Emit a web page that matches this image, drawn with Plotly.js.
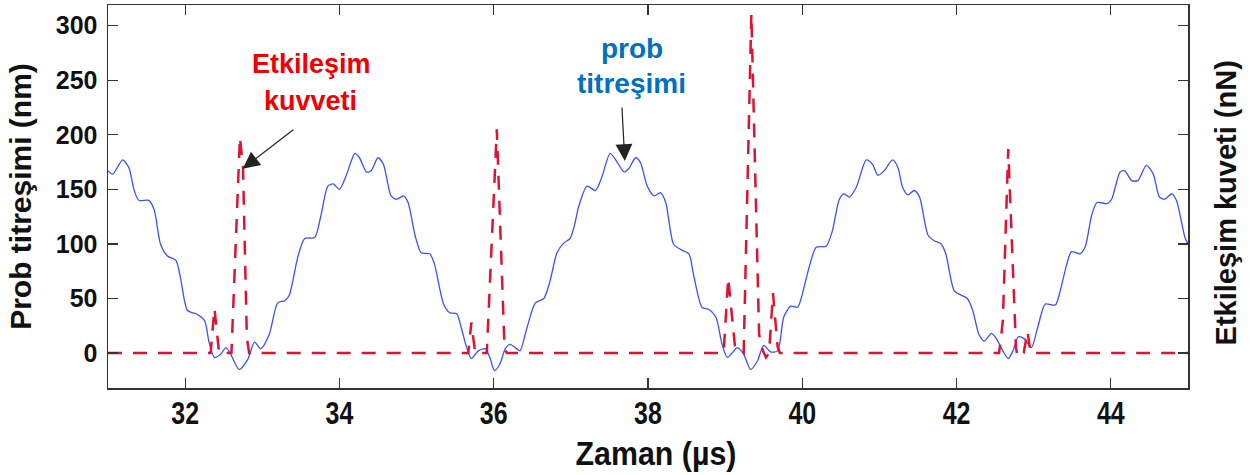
<!DOCTYPE html>
<html><head><meta charset="utf-8">
<script src="https://cdn.plot.ly/plotly-3.0.1.min.js"></script>
<style>html,body{margin:0;padding:0;background:#fff}</style>
</head><body><div id="chart" style="width:1255px;height:475px"></div>
<script>
// Probe vibration (nm) vs time (µs)
const probTime = [31.00,31.06,31.19,31.27,31.34,31.40,31.53,31.60,31.68,31.77,31.88,31.94,32.03,32.14,32.25,32.31,32.38,32.46,32.53,32.59,32.70,32.81,32.90,32.98,33.09,33.20,33.29,33.35,33.46,33.55,33.68,33.76,33.85,33.92,34.00,34.09,34.20,34.26,34.35,34.41,34.50,34.57,34.67,34.74,34.83,34.89,34.98,35.06,35.17,35.23,35.35,35.43,35.52,35.58,35.65,35.71,35.80,35.89,35.95,36.01,36.08,36.15,36.21,36.28,36.34,36.43,36.54,36.65,36.73,36.82,36.91,36.99,37.05,37.10,37.21,37.32,37.40,37.51,37.60,37.69,37.75,37.84,37.90,37.99,38.08,38.16,38.23,38.33,38.42,38.53,38.59,38.70,38.79,38.88,38.96,39.03,39.16,39.24,39.33,39.42,39.50,39.59,39.68,39.76,39.85,39.94,40.00,40.09,40.18,40.31,40.39,40.48,40.54,40.61,40.70,40.83,40.91,40.98,41.06,41.17,41.24,41.30,41.37,41.45,41.52,41.63,41.71,41.80,41.86,41.97,42.06,42.14,42.21,42.29,42.36,42.45,42.51,42.60,42.67,42.73,42.80,42.88,42.97,43.05,43.15,43.28,43.34,43.43,43.49,43.60,43.67,43.75,43.82,43.95,44.01,44.12,44.18,44.27,44.35,44.46,44.55,44.63,44.70,44.79,44.85,44.96,45.00];
const probAmp = [167,164,177,170,149,140,140,131,100,89,85,69,39,36,30,10,-4,-1,5,-1,-15,-6,10,4,17,46,48,53,88,105,106,126,153,155,150,163,183,179,166,167,179,173,144,141,144,138,108,92,91,82,45,37,36,23,5,-5,2,4,-4,-16,-10,4,8,5,2,23,46,50,66,92,101,105,118,134,153,149,161,183,175,166,169,179,175,153,144,147,138,100,95,91,72,42,40,33,8,-4,5,-1,-15,-7,7,1,2,33,43,42,54,79,97,98,112,141,146,143,152,177,173,163,167,177,170,152,145,149,143,108,103,100,91,57,53,50,39,17,11,18,14,2,-5,2,15,13,5,23,45,44,56,82,93,91,98,126,138,137,141,166,167,158,158,172,164,143,141,146,140,106,100];

// Interaction force (nN) vs time (µs)
const forceTime = [31.00,32.33,32.38,32.44,32.60,32.71,32.75,32.80,32.83,35.67,35.71,35.76,35.91,36.04,36.14,36.17,38.98,39.04,39.13,39.24,39.34,39.44,39.49,39.53,39.57,39.62,39.68,39.71,42.55,42.57,42.60,42.67,42.77,42.79,42.84,42.87,42.92,42.96,45.00];
const forceVal  = [0,0,41,0,0,198,170,14,0,0,28,0,0,205,5,0,0,69,4,0,311,17,2,-4,0,55,6,0,0,10,30,187,5,-3,-3,0,20,0,0];

const xTickVals = [32,34,36,38,40,42,44];
const yTickVals = [0,50,100,150,200,250,300];

const sans = 'Liberation Sans, Arial, sans-serif';

const traces = [
  {x: probTime, y: probAmp, type: 'scatter', mode: 'lines', name: 'prob titreşimi',
   line: {color: 'rgb(60,80,250)', width: 1.3, shape: 'spline', smoothing: 0.7}, hoverinfo: 'skip'},
  {x: forceTime, y: forceVal, type: 'scatter', mode: 'lines', name: 'Etkileşim kuvveti',
   line: {color: 'rgb(220,20,50)', width: 2.5, dash: '14px,11px'}, hoverinfo: 'skip'}
];

const axisCommon = {
  showgrid: false, zeroline: false, showline: true, mirror: 'ticks',
  linecolor: '#333', linewidth: 1.5, ticks: 'inside', ticklen: 10,
  tickwidth: 1.2, tickcolor: '#333'
};

const layout = {
  width: 1255, height: 475, autosize: false,
  margin: {l: 108, r: 67, t: 5, b: 87},
  paper_bgcolor: '#fff', plot_bgcolor: '#fff',
  showlegend: false,
  xaxis: Object.assign({}, axisCommon, {
    range: [31, 45], tickvals: xTickVals, ticktext: xTickVals.map(String),
    tickfont: {family: sans, size: 32, color: '#111', weight: 'bold'},
    ticklabelstandoff: -4,
    title: {text: 'Zaman (µs)', font: {family: sans, size: 33, color: '#111', weight: 'bold'}, standoff: 12}
  }),
  yaxis: Object.assign({}, axisCommon, {
    range: [-32, 319], tickvals: yTickVals, ticktext: yTickVals.map(String),
    tickfont: {family: sans, size: 25, color: '#111', weight: 'bold'},
    ticklabelstandoff: 4,
    title: {text: 'Prob titreşimi (nm)', font: {family: sans, size: 30, color: '#111', weight: 'bold'}, standoff: 15}
  }),
  annotations: [
    {xref: 'paper', yref: 'paper', x: 1.035, y: 0.484, xanchor: 'center', yanchor: 'middle',
     text: 'Etkileşim kuveti (nN)', textangle: -90, showarrow: false,
     font: {family: sans, size: 29, color: '#111', weight: 'bold'}},
    {x: 33.64, y: 265, text: 'Etkileşim', showarrow: false,
     font: {family: sans, size: 27, color: '#f00000', weight: 'bold'}},
    {x: 33.63, y: 231, text: 'kuvveti', showarrow: false,
     font: {family: sans, size: 27, color: '#f00000', weight: 'bold'}},
    {x: 37.79, y: 279, text: 'prob', showarrow: false,
     font: {family: sans, size: 28, color: '#0070c0', weight: 'bold'}},
    {x: 37.79, y: 247, text: 'titreşimi', showarrow: false,
     font: {family: sans, size: 28, color: '#0070c0', weight: 'bold'}},
    {x: 32.747, y: 169, ax: 52, ay: -40, text: '', showarrow: true,
     arrowhead: 2, arrowsize: 2.8, arrowwidth: 1.2, arrowcolor: '#222'},
    {x: 37.70, y: 176, ax: -3, ay: -55, text: '', showarrow: true,
     arrowhead: 2, arrowsize: 2.8, arrowwidth: 1.2, arrowcolor: '#222'}
  ]
};

// horizontally condense text (the reference uses a narrow bold face)
function condense(selector, sx, dx) {
  document.querySelectorAll(selector).forEach(function (t) {
    const x = parseFloat(t.getAttribute('x') || 0);
    const y = parseFloat(t.getAttribute('y') || 0);
    const tr = t.getAttribute('transform') || '';
    t.setAttribute('transform', tr + ' translate(' + (x + (dx || 0)) + ',' + y + ') scale(' + sx + ',1) translate(' + (-x) + ',' + (-y) + ')');
  });
}

Plotly.newPlot('chart', traces, layout, {staticPlot: true, displayModeBar: false}).then(function () {
  condense('#chart .xtick text', 0.78, 0);
  condense('#chart .g-xtitle text', 0.92, 8);
});
</script>
</body></html>
